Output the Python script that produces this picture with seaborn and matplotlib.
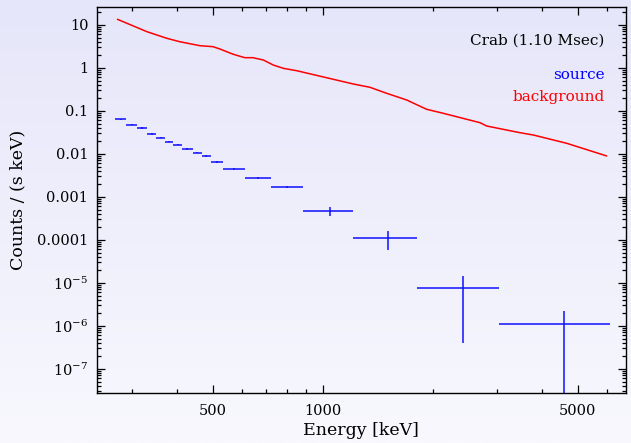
import numpy as np
import pandas as pd
import matplotlib
matplotlib.use("Agg")
import matplotlib.pyplot as plt
from matplotlib.colors import LinearSegmentedColormap
from matplotlib.ticker import FixedLocator, FuncFormatter, LogLocator, NullFormatter
import seaborn as sns

# ---- data ----
bin_edges = [270, 290, 310, 330, 350, 370, 390, 412, 440, 467, 493, 532,
             612, 720, 882, 1208, 1810, 3034, 6140]
src_center_override = {14: 1045, 15: 1510, 16: 2419, 17: 4583}
src_rate = [0.063, 0.0472, 0.0396, 0.0287, 0.0236, 0.019, 0.0162, 0.0129,
            0.01055, 0.00885, 0.00641, 0.00434, 0.00272, 0.00171,
            0.000465, 0.000108, 7.5e-6, 1.1e-6]
src_err = [0.002, 0.0015, 0.0012, 0.0009, 0.0007, 0.0006, 0.0005, 0.0004,
           0.0004, 0.0003, 0.0003, 0.0002, 0.00015, 0.0001,
           0.0001, 5e-5, 7.1e-6, 1.09e-6]

bkg_energy = [274, 303, 330, 374, 406, 461, 501, 523, 569, 612, 644, 688, 732,
              780, 849, 979, 1213, 1348, 1497, 1699, 1927, 2139, 2698, 2813,
              3471, 3776, 4662, 6000]
bkg_rate = [13.35, 9.33, 6.88, 4.83, 4.02, 3.25, 3.08, 2.72, 2.05, 1.71, 1.71,
            1.51, 1.156, 0.968, 0.851, 0.641, 0.418, 0.350, 0.254, 0.1774,
            0.1078, 0.0871, 0.0526, 0.0441, 0.0308, 0.0272, 0.01746, 0.00885]

title_text = "Crab (1.10 Msec)"
y_tick_labels = {1: "10", 0: "1", -1: "0.1", -2: "0.01", -3: "0.001",
                 -4: "0.0001", -5: r"$10^{-5}$", -6: r"$10^{-6}$", -7: r"$10^{-7}$"}
x_tick_values = [500, 1000, 5000]

# ---- derived ----
lo = np.array(bin_edges[:-1], float)
hi = np.array(bin_edges[1:], float)
centers = np.sqrt(lo * hi)
for i, v in src_center_override.items():
    centers[i] = v
src = pd.DataFrame({"E": centers, "rate": src_rate, "err": src_err,
                    "xlo": centers - lo, "xhi": hi - centers})
bkg = pd.DataFrame({"E": bkg_energy, "rate": bkg_rate})

sns.set_theme(style="ticks")
plt.rcParams["font.family"] = ["DejaVu Serif"]
plt.rcParams["mathtext.fontset"] = "dejavuserif"

W, H = 631, 443
fig = plt.figure(figsize=(W / 100, H / 100), dpi=100)

# gradient background
bg = fig.add_axes([0, 0, 1, 1], zorder=-10)
grad = np.linspace(0, 1, 256).reshape(-1, 1)
cmap = LinearSegmentedColormap.from_list("bg", ["#e6e6fa", "#f8f8fe"])
bg.imshow(grad, aspect="auto", cmap=cmap, extent=[0, 1, 0, 1], origin="upper")
bg.axis("off")

ax = fig.add_axes([96.7 / W, 1 - 393 / H, (626 - 96.7) / W, (393 - 7) / H])
ax.set_facecolor("none")

sns.lineplot(data=bkg, x="E", y="rate", ax=ax, color="#ff0000", lw=1.1,
             estimator=None, sort=False)
ax.errorbar(src["E"], src["rate"], xerr=[src["xlo"], src["xhi"]],
            yerr=src["err"], fmt="none", ecolor="#1010ff", elinewidth=1.1,
            capsize=0)

ax.set_xscale("log")
ax.set_yscale("log")
ax.set_xlim(240.4, 6777)
ax.set_ylim(2.72e-8, 25.8)

ax.xaxis.set_major_locator(FixedLocator(x_tick_values))
ax.xaxis.set_major_formatter(FuncFormatter(lambda v, p: f"{int(round(v))}"))
ax.xaxis.set_minor_locator(FixedLocator([300, 400, 600, 700, 800, 900, 2000,
                                         3000, 4000, 6000]))
ax.xaxis.set_minor_formatter(NullFormatter())

ax.yaxis.set_major_locator(FixedLocator([10.0 ** k for k in y_tick_labels]))
ax.yaxis.set_major_formatter(FuncFormatter(
    lambda v, p: y_tick_labels.get(int(round(np.log10(v))), "")))
ax.yaxis.set_minor_locator(LogLocator(base=10, subs=np.arange(2, 10), numticks=50))
ax.yaxis.set_minor_formatter(NullFormatter())

ax.tick_params(which="both", direction="in", top=True, right=True,
               colors="black", labelsize=10.5, width=0.9)
ax.tick_params(which="major", length=6)
ax.tick_params(which="minor", length=3)
ax.tick_params(axis="x", which="major", pad=8)
ax.tick_params(axis="y", which="major", pad=6)
for s in ax.spines.values():
    s.set_color("black")
    s.set_linewidth(1.0)

ax.set_xlabel("Energy [keV]", fontsize=12.5, color="black", labelpad=3)
ax.set_ylabel("Counts / (s keV)", fontsize=12.5, color="black", labelpad=8)

ax.text(0.960, 0.914, title_text, transform=ax.transAxes, ha="right",
        va="center", fontsize=11, color="black")
ax.text(0.960, 0.824, "source", transform=ax.transAxes, ha="right",
        va="center", fontsize=11, color="#0000ff")
ax.text(0.960, 0.767, "background", transform=ax.transAxes, ha="right",
        va="center", fontsize=11, color="#ff0000")

fig.savefig("out.png", dpi=100)
